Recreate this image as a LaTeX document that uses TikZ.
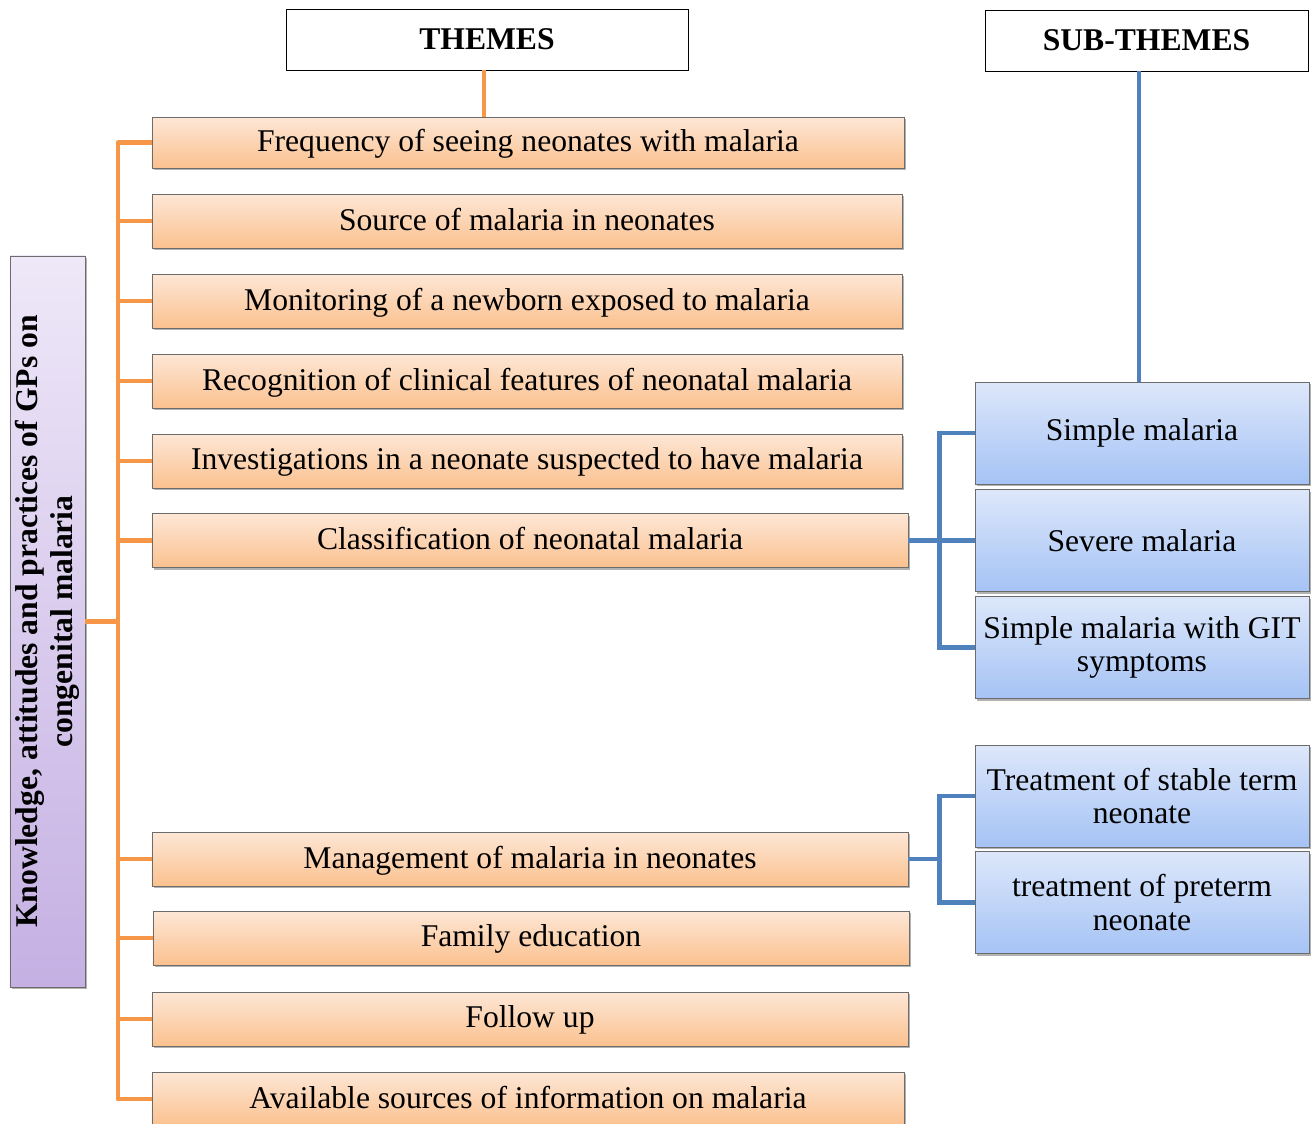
\documentclass[tikz,border=0pt]{standalone}
\usepackage{fontspec}
\setmainfont{Liberation Serif}
\usetikzlibrary{shadows}

\definecolor{themeline}{HTML}{F79646}
\definecolor{themetop}{HTML}{FDE7D6}
\definecolor{themebot}{HTML}{FBC18F}
\definecolor{subline}{HTML}{4F81BD}
\definecolor{subtop}{HTML}{DDE7FA}
\definecolor{subbot}{HTML}{A5C3F5}
\definecolor{kaptop}{HTML}{EEE8F8}
\definecolor{kapbot}{HTML}{C5B0E3}

\begin{document}
\begin{tikzpicture}[x=0.2mm, y=-0.2mm,
        boxshadow/.style={drop shadow={shadow xshift=1.3pt, shadow yshift=-1.3pt, fill=black, opacity=0.3}},
        theme/.style={draw=gray!85!black, top color=themetop, bottom color=themebot, boxshadow,
                minimum width=150.4mm, minimum height=10.8mm, inner sep=0pt, text depth=0.5ex,
                font=\fontsize{18}{21}\selectfont},
        subtheme/.style={draw=gray!85!black, top color=subtop, bottom color=subbot, boxshadow,
                minimum width=66.8mm, minimum height=20.4mm, text width=66.8mm, align=flush center, inner sep=0pt,
                font=\fontsize{18}{19}\selectfont},
        header/.style={draw=black, fill=white, minimum height=12.2mm, inner sep=0pt,
                font=\fontsize{18}{21}\selectfont\bfseries},
        orangeline/.style={themeline, line width=2.6pt},
        blueline/.style={subline, line width=2.6pt}]
        \useasboundingbox (0,0) rectangle (1316,1124);

        % headers
        \node[header, minimum width=80.4mm] (themes) at (487,39.5) {THEMES};
        \node[header, minimum width=64.6mm] (subthemes) at (1146.5,40.5) {SUB-THEMES};

        % left box
        \node[draw=gray!85!black, top color=kaptop, bottom color=kapbot, boxshadow,
                minimum width=15mm, minimum height=146.2mm] (kap) at (47.5,621.5) {};
        \node[rotate=90, align=center, font=\fontsize{18}{20}\selectfont\bfseries] (kaptext) at (kap.center)
                {Knowledge, attitudes and practices of GPs on\\congenital malaria};

        % themes
        \node[theme, minimum height=10.2mm] (freq) at (528,142.5) {Frequency of seeing neonates with malaria};
        \node[theme, minimum width=150mm] (source) at (527,221) {Source of malaria in neonates};
        \node[theme, minimum width=150mm] (monitor) at (527,301) {Monitoring of a newborn exposed to malaria};
        \node[theme, minimum width=150mm] (recog) at (527,381) {Recognition of clinical features of neonatal malaria};
        \node[theme, minimum width=150mm] (invest) at (527,461) {Investigations in a neonate suspected to have malaria};
        \node[theme, minimum width=151.2mm] (classif) at (530,540.5) {Classification of neonatal malaria};
        \node[theme, minimum width=151.2mm] (manage) at (530,859) {Management of malaria in neonates};
        \node[theme, minimum width=151.2mm] (family) at (531,938) {Family education};
        \node[theme, minimum width=151.2mm] (follow) at (530,1019) {Follow up};
        \node[theme] (avail) at (528,1099) {Available sources of information on malaria};

        % sub-themes
        \node[subtheme] (simple) at (1142,433) {Simple malaria};
        \node[subtheme] (severe) at (1142,540.5) {Severe malaria};
        \node[subtheme] (simplegit) at (1142,647.5) {Simple malaria with GIT symptoms};
        \node[subtheme] (stable) at (1142,796) {Treatment of stable term neonate};
        \node[subtheme] (preterm) at (1142,902.5) {treatment of preterm neonate};

        % orange tree
        \coordinate (trunktop) at (118,142.5);
        \coordinate (trunkbot) at (118,1099);
        \draw[orangeline] (themes.south -| 484,0) -- (freq.north -| 484,0);
        \draw[orangeline, line cap=round] (trunktop) -- (trunkbot);
        \draw[orangeline] (kap.east) -- (kap.east -| trunktop);
        \foreach \t in {freq,source,monitor,recog,invest,classif,manage,family,follow,avail}
                \draw[orangeline] (\t.west) -- (\t.west -| trunktop);

        % blue tree
        \draw[blueline] (simple.north -| 1139,0) -- (subthemes.south -| 1139,0);
        \draw[blueline] (simple.west) -- ++(-35,0) |- (simplegit.west);
        \draw[blueline] (classif.east) -- (severe.west);
        \draw[blueline] (stable.west) -- ++(-35,0) |- (preterm.west);
        \draw[blueline] (manage.east) -- ++(32,0);
\end{tikzpicture}
\end{document}
